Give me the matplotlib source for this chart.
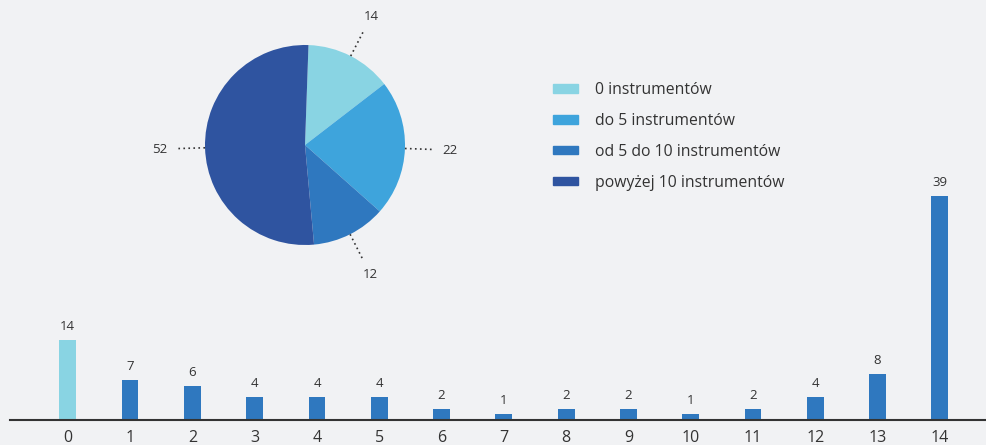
import numpy as np
import matplotlib.pyplot as plt

# bar chart data
categories = [str(i) for i in range(15)]
counts = [14, 7, 6, 4, 4, 4, 2, 1, 2, 2, 1, 2, 4, 8, 39]

# pie data
pie_labels = ['0 instrumentów', 'do 5 instrumentów', 'od 5 do 10 instrumentów', 'powyżej 10 instrumentów']
pie_values = [14, 22, 12, 52]
pie_colors = ['#89d4e3', '#3ea4dc', '#2f78bf', '#2f54a0']

bg = '#f1f2f4'
text_col = '#333333'
plt.rcParams['font.family'] = ['Open Sans', 'DejaVu Sans']

fig = plt.figure(figsize=(9.86, 4.45), dpi=100, facecolor=bg)

# bars
ax = fig.add_axes([0.01, 0.056, 0.99, 0.944], facecolor=bg)
x = np.arange(len(categories))
bar_colors = ['#89d4e3'] + ['#2f78bf'] * (len(counts) - 1)
ax.bar(x, counts, width=0.27, color=bar_colors)
for xi, v in zip(x, counts):
    ax.text(xi, v + 1.2, str(v), ha='center', va='bottom', fontsize=9.5, color=text_col)
ax.set_xlim(-0.93, 14.74)
ax.set_ylim(0, 73)
ax.set_xticks(x)
ax.set_xticklabels(categories, fontsize=11.5, color=text_col)
ax.tick_params(axis='x', length=0, pad=7)
ax.set_yticks([])
for s in ['top', 'right', 'left']:
    ax.spines[s].set_visible(False)
ax.spines['bottom'].set_color('#333333')
ax.spines['bottom'].set_linewidth(1.5)

# pie inset
pax = fig.add_axes([205 / 986, 200 / 445, 200 / 986, 200 / 445])
pax.set_facecolor('none')
wedges, _ = pax.pie(pie_values, colors=pie_colors, startangle=88, counterclock=False,
                    radius=1.0)
for w, v in zip(wedges, pie_values):
    ang = np.deg2rad((w.theta1 + w.theta2) / 2)
    c, s = np.cos(ang), np.sin(ang)
    pax.plot([c * 1.0, c * 1.3], [s * 1.0, s * 1.3], color='#333333', lw=1.2,
             linestyle=(0, (1, 2)), clip_on=False)
    pax.text(c * 1.45, s * 1.45, str(v), ha='center', va='center', fontsize=9.5,
             color=text_col, clip_on=False)
pax.set_xlim(-1, 1)
pax.set_ylim(-1, 1)
pax.set_aspect('equal')
pax.axis('off')

# legend
handles = [plt.Rectangle((0, 0), 1, 1, color=c) for c in pie_colors]
fig.legend(handles, pie_labels, loc='upper left', bbox_to_anchor=(553 / 986, 1 - 82 / 445),
           frameon=False, fontsize=11.3, labelcolor=text_col, handlelength=1.6,
           handleheight=0.45, labelspacing=0.95, handletextpad=1.1, borderaxespad=0,
           borderpad=0)

fig.savefig('out.png', dpi=100, facecolor=bg)
